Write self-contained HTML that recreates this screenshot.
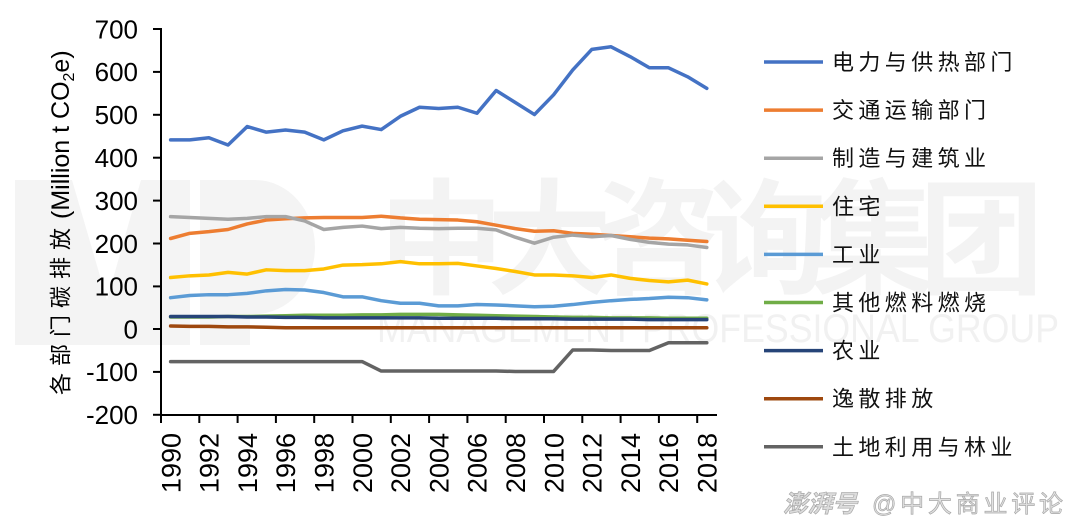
<!DOCTYPE html>
<html>
<head>
<meta charset="utf-8">
<style>
  html,body{margin:0;padding:0;background:#fff;}
  svg{display:block;}
</style>
</head>
<body>
<svg width="1080" height="524" viewBox="0 0 1080 524" xmlns="http://www.w3.org/2000/svg">
  <rect x="0" y="0" width="1080" height="524" fill="#ffffff"/>

  <!-- faint watermark -->
  <g fill="#f4f4f4">
    <polygon points="15,180 72,180 107,300 141,180 190,180 190,345 15,345"/>
    <path d="M200,180 H255 A60,67 0 0 1 255,314 H250 V345 H200 Z"/>
  </g>
  <text x="379" y="284" font-family="Noto Sans CJK SC, sans-serif" font-weight="bold" font-size="125" fill="#f3f3f3" textLength="665" lengthAdjust="spacing">中大咨询集团</text>
  <text x="377" y="342" font-family="Liberation Sans, sans-serif" font-size="40" fill="#f1f1f1" textLength="682" lengthAdjust="spacingAndGlyphs">MANAGEMENT PROFESSIONAL GROUP</text>

  <!-- series -->
  <g transform="translate(170.6,329) scale(19.15,-0.4289)" fill="none" stroke-linejoin="round" stroke-linecap="round">
    <polyline vector-effect="non-scaling-stroke" stroke="#4472C4" stroke-width="3.5" points="0,441 1,441 2,446 3,429 4,472 5,459 6,464 7,459 8,441 9,462 10,473 11,465 12,496 13,517 14,514 15,517 16,503 17,556 18,528 19,500 20,546 21,604 22,652 23,658 24,635 25,609 26,609 27,588 28,561"/>
    <polyline vector-effect="non-scaling-stroke" stroke="#ED7D31" stroke-width="3.5" points="0,211 1,223 2,227 3,232 4,245 5,254 6,257 7,259 8,260 9,260 10,260 11,263 12,259 13,256 14,255 15,254 16,250 17,242 18,234 19,228 20,229 21,223 22,221 23,218 24,215 25,212 26,210 27,207 28,204"/>
    <polyline vector-effect="non-scaling-stroke" stroke="#A5A5A5" stroke-width="3.5" points="0,262 1,260 2,258 3,256 4,258 5,262 6,262 7,252 8,232 9,237 10,240 11,234 12,237 13,235 14,234 15,235 16,235 17,231 18,214 19,200 20,214 21,219 22,215 23,218 24,209 25,202 26,198 27,196 28,190"/>
    <polyline vector-effect="non-scaling-stroke" stroke="#FFC000" stroke-width="3.5" points="0,120 1,124 2,126 3,132 4,128 5,138 6,136 7,136 8,140 9,149 10,150 11,152 12,157 13,152 14,152 15,153 16,147 17,141 18,134 19,126 20,126 21,124 22,120 23,126 24,118 25,113 26,110 27,114 28,105"/>
    <polyline vector-effect="non-scaling-stroke" stroke="#5B9BD5" stroke-width="3.5" points="0,73 1,78 2,80 3,80 4,83 5,89 6,92 7,91 8,85 9,75 10,75 11,66 12,60 13,60 14,54 15,54 16,57 17,56 18,54 19,52 20,53 21,57 22,62 23,66 24,69 25,71 26,74 27,73 28,68"/>
    <polyline vector-effect="non-scaling-stroke" stroke="#70AD47" stroke-width="3.5" points="0,28 1,28 2,28 3,29 4,29 5,30 6,31 7,32 8,32 9,32 10,33 11,33 12,34 13,34 14,34 15,33 16,32 17,31 18,30 19,29 20,28 21,27 22,27 23,26 24,26 25,26 26,25 27,25 28,25"/>
    <polyline vector-effect="non-scaling-stroke" stroke="#264478" stroke-width="3.5" points="0,29 1,29 2,29 3,29 4,28 5,28 6,27 7,27 8,26 9,26 10,26 11,26 12,26 13,26 14,25 15,25 16,25 17,25 18,24 19,24 20,24 21,23 22,23 23,23 24,23 25,22 26,22 27,22 28,22"/>
    <polyline vector-effect="non-scaling-stroke" stroke="#9E480E" stroke-width="3.5" points="0,7 1,6 2,6 3,5 4,5 5,4 6,3 7,3 8,3 9,3 10,3 11,3 12,3 13,3 14,3 15,3 16,3 17,3 18,3 19,3 20,3 21,3 22,3 23,3 24,3 25,3 26,3 27,3 28,3"/>
    <polyline vector-effect="non-scaling-stroke" stroke="#636363" stroke-width="3.5" points="0,-76 1,-76 2,-76 3,-76 4,-76 5,-76 6,-76 7,-76 8,-76 9,-76 10,-76 11,-98 12,-98 13,-98 14,-98 15,-98 16,-98 17,-98 18,-99 19,-99 20,-99 21,-49 22,-49 23,-50 24,-50 25,-50 26,-32 27,-32 28,-32"/>
  </g>

  <!-- axes -->
  <g stroke="#000" stroke-width="2" fill="none">
    <line x1="161" y1="28" x2="161" y2="416"/>
    <line x1="160" y1="415" x2="717" y2="415"/>
    <!-- y ticks -->
    <line x1="153" y1="29" x2="161" y2="29"/>
    <line x1="153" y1="71.9" x2="161" y2="71.9"/>
    <line x1="153" y1="114.8" x2="161" y2="114.8"/>
    <line x1="153" y1="157.7" x2="161" y2="157.7"/>
    <line x1="153" y1="200.6" x2="161" y2="200.6"/>
    <line x1="153" y1="243.5" x2="161" y2="243.5"/>
    <line x1="153" y1="286.4" x2="161" y2="286.4"/>
    <line x1="153" y1="329" x2="161" y2="329"/>
    <line x1="153" y1="371.9" x2="161" y2="371.9"/>
    <line x1="153" y1="414.8" x2="161" y2="414.8"/>
    <!-- x ticks -->
    <line x1="161" y1="415" x2="161" y2="423"/>
    <line x1="199.3" y1="415" x2="199.3" y2="423"/>
    <line x1="237.6" y1="415" x2="237.6" y2="423"/>
    <line x1="275.9" y1="415" x2="275.9" y2="423"/>
    <line x1="314.2" y1="415" x2="314.2" y2="423"/>
    <line x1="352.5" y1="415" x2="352.5" y2="423"/>
    <line x1="390.8" y1="415" x2="390.8" y2="423"/>
    <line x1="429.1" y1="415" x2="429.1" y2="423"/>
    <line x1="467.4" y1="415" x2="467.4" y2="423"/>
    <line x1="505.7" y1="415" x2="505.7" y2="423"/>
    <line x1="544" y1="415" x2="544" y2="423"/>
    <line x1="582.3" y1="415" x2="582.3" y2="423"/>
    <line x1="620.6" y1="415" x2="620.6" y2="423"/>
    <line x1="658.9" y1="415" x2="658.9" y2="423"/>
    <line x1="697.2" y1="415" x2="697.2" y2="423"/>
  </g>

  <!-- y tick labels -->
  <g font-family="Liberation Sans, sans-serif" font-size="26" fill="#000" text-anchor="end">
    <text x="138" y="38.3">700</text>
    <text x="138" y="81.2">600</text>
    <text x="138" y="124.1">500</text>
    <text x="138" y="167">400</text>
    <text x="138" y="209.9">300</text>
    <text x="138" y="252.8">200</text>
    <text x="138" y="295.7">100</text>
    <text x="138" y="338.3">0</text>
    <text x="138" y="381.2">-100</text>
    <text x="138" y="424.1">-200</text>
  </g>

  <!-- x tick labels -->
  <g font-family="Liberation Sans, sans-serif" font-size="27" fill="#000" text-anchor="end">
    <text transform="translate(180.3,433) rotate(-90)">1990</text>
    <text transform="translate(218.6,433) rotate(-90)">1992</text>
    <text transform="translate(256.9,433) rotate(-90)">1994</text>
    <text transform="translate(295.2,433) rotate(-90)">1996</text>
    <text transform="translate(333.5,433) rotate(-90)">1998</text>
    <text transform="translate(371.8,433) rotate(-90)">2000</text>
    <text transform="translate(410.1,433) rotate(-90)">2002</text>
    <text transform="translate(448.4,433) rotate(-90)">2004</text>
    <text transform="translate(486.7,433) rotate(-90)">2006</text>
    <text transform="translate(525,433) rotate(-90)">2008</text>
    <text transform="translate(563.3,433) rotate(-90)">2010</text>
    <text transform="translate(601.6,433) rotate(-90)">2012</text>
    <text transform="translate(639.9,433) rotate(-90)">2014</text>
    <text transform="translate(678.2,433) rotate(-90)">2016</text>
    <text transform="translate(716.5,433) rotate(-90)">2018</text>
  </g>

  <!-- y axis title -->
  <text transform="translate(68.5,395) rotate(-90)" font-family="Liberation Sans, Noto Sans CJK SC, sans-serif" font-size="22" letter-spacing="7" fill="#000">各部门碳排放</text>
  <text transform="translate(69,219) rotate(-90)" font-family="Liberation Sans, sans-serif" font-size="25" fill="#000">(Million t CO<tspan font-size="16" dy="5">2</tspan><tspan dy="-5">e)</tspan></text>

  <!-- legend -->
  <g stroke-width="3.5" fill="none">
    <line x1="764" y1="62" x2="823" y2="62" stroke="#4472C4"/>
    <line x1="764" y1="110.1" x2="823" y2="110.1" stroke="#ED7D31"/>
    <line x1="764" y1="158.2" x2="823" y2="158.2" stroke="#A5A5A5"/>
    <line x1="764" y1="206.3" x2="823" y2="206.3" stroke="#FFC000"/>
    <line x1="764" y1="254.4" x2="823" y2="254.4" stroke="#5B9BD5"/>
    <line x1="764" y1="302.5" x2="823" y2="302.5" stroke="#70AD47"/>
    <line x1="764" y1="350.6" x2="823" y2="350.6" stroke="#264478"/>
    <line x1="764" y1="398.7" x2="823" y2="398.7" stroke="#9E480E"/>
    <line x1="764" y1="446.8" x2="823" y2="446.8" stroke="#636363"/>
  </g>
  <g font-family="Liberation Sans, Noto Sans CJK SC, sans-serif" font-size="22" letter-spacing="4.4" fill="#111">
    <text x="832" y="70">电力与供热部门</text>
    <text x="832" y="118.1">交通运输部门</text>
    <text x="832" y="166.2">制造与建筑业</text>
    <text x="832" y="214.3">住宅</text>
    <text x="832" y="262.4">工业</text>
    <text x="832" y="310.5">其他燃料燃烧</text>
    <text x="832" y="358.6">农业</text>
    <text x="832" y="406.7">逸散排放</text>
    <text x="832" y="454.8">土地利用与林业</text>
  </g>

  <!-- bottom-right watermark -->
  <text x="783" y="512" font-family="Liberation Sans, Noto Sans CJK SC, sans-serif" font-size="24" font-style="italic" font-weight="bold" fill="#dcdcdc" stroke="#a8a8a8" stroke-width="0.7" textLength="74" lengthAdjust="spacingAndGlyphs">澎湃号</text>
  <text x="872" y="512" font-family="Liberation Sans, Noto Sans CJK SC, sans-serif" font-size="24" fill="#e2e2e2" stroke="#a8a8a8" stroke-width="0.7" textLength="191" lengthAdjust="spacing">@中大商业评论</text>
</svg>
</body>
</html>
